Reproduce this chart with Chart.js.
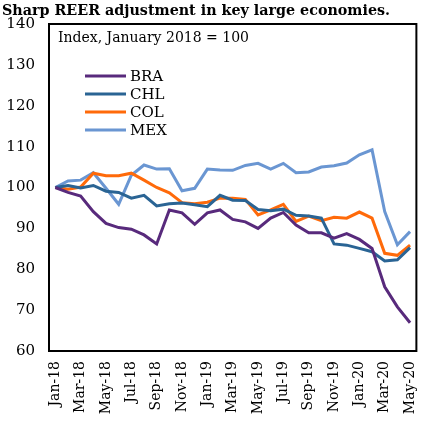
<!DOCTYPE html>
<html>
<head>
<script src="https://cdn.jsdelivr.net/npm/chart.js"></script>
<title>REER</title>
<style>
  body { margin: 0; background: #fff; }
  #wrap { width: 437px; height: 421px; }
</style>
</head>
<body>
<div id="wrap"><canvas id="myChart"></canvas></div>
<script>
const months = ['Jan-18','Feb-18','Mar-18','Apr-18','May-18','Jun-18','Jul-18','Aug-18','Sep-18','Oct-18','Nov-18','Dec-18',
  'Jan-19','Feb-19','Mar-19','Apr-19','May-19','Jun-19','Jul-19','Aug-19','Sep-19','Oct-19','Nov-19','Dec-19',
  'Jan-20','Feb-20','Mar-20','Apr-20','May-20'];

const bra = [100, 98.8, 97.9, 94.1, 91.2, 90.2, 89.8, 88.4, 86.2, 94.5, 93.8, 91.0, 93.8, 94.5, 92.2,
  91.6, 90.0, 92.5, 93.9, 90.8, 88.9, 88.9, 87.6, 88.7, 87.3, 85.1, 75.7, 70.8, 66.9];
const chl = [100, 100.5, 99.9, 100.5, 99.1, 98.8, 97.4, 98.1, 95.5, 96.0, 96.2, 95.8, 95.3, 98.1, 96.9,
  96.8, 94.6, 94.3, 94.7, 93.2, 93.0, 92.5, 86.2, 85.9, 85.1, 84.3, 82.0, 82.3, 85.3];
const col = [100, 99.6, 100.1, 103.5, 102.9, 102.9, 103.5, 101.8, 100.0, 98.7, 96.3, 96.0, 96.4, 97.4, 97.4,
  97.1, 93.3, 94.5, 95.9, 91.7, 93.0, 91.9, 92.7, 92.5, 94.0, 92.5, 83.9, 83.4, 85.9];
const mex = [100, 101.6, 101.8, 103.6, 99.8, 95.9, 103.0, 105.5, 104.5, 104.6, 99.2, 99.8, 104.5, 104.3, 104.2,
  105.4, 105.9, 104.5, 105.9, 103.6, 103.8, 105.0, 105.3, 106.0, 108.0, 109.2, 94.1, 86.0, 89.2];

const yTicks = [60, 70, 80, 90, 100, 110, 120, 130, 140];

const serif = "'DejaVu Serif', 'Liberation Serif', serif";

// titles, inner note, legend and box drawn on top of the chart
const decor = {
  id: 'decor',
  afterDraw(chart) {
    const c = chart.ctx;
    const a = chart.chartArea;
    c.save();
    c.strokeStyle = '#000';
    c.lineWidth = 2;
    c.strokeRect(a.left, a.top, a.right - a.left, a.bottom - a.top);

    c.fillStyle = '#000';
    c.textBaseline = 'middle';
    c.font = 'bold 14.3px ' + serif;
    c.fillText('Sharp REER adjustment in key large economies.', 2, 11);

    c.font = '14px ' + serif;
    c.fillText('Index, January 2018 = 100', a.left + 9, 38);

    chart.data.datasets.forEach((ds, i) => {
      const y = 76 + i * 18;
      c.strokeStyle = ds.borderColor;
      c.lineWidth = 3;
      c.beginPath();
      c.moveTo(85, y);
      c.lineTo(126, y);
      c.stroke();
      c.fillStyle = '#000';
      c.font = '15px ' + serif;
      c.fillText(ds.label, 130, y + 1);
    });
    c.restore();
  }
};

const ctx = document.getElementById('myChart');
new Chart(ctx, {
  type: 'line',
  data: {
    labels: months,
    datasets: [
      { label: 'BRA', data: bra, borderColor: '#582a7c' },
      { label: 'CHL', data: chl, borderColor: '#2a6494' },
      { label: 'COL', data: col, borderColor: '#ff6a0a' },
      { label: 'MEX', data: mex, borderColor: '#6a96d2' }
    ]
  },
  options: {
    responsive: true,
    maintainAspectRatio: false,
    animation: false,
    layout: { padding: { top: 24, right: 9, left: 4, bottom: 0 } },
    elements: {
      point: { radius: 0 },
      line: { borderWidth: 3, tension: 0 }
    },
    plugins: {
      legend: { display: false },
      tooltip: { enabled: false }
    },
    scales: {
      x: {
        offset: true,
        grid: { display: false, drawTicks: false },
        border: { display: false },
        afterFit: s => { s.height = 70; },
        ticks: {
          autoSkip: false,
          minRotation: 90,
          maxRotation: 90,
          padding: 10,
          color: '#000',
          font: { family: serif, size: 14 },
          callback: function (v, i) { return i % 2 === 0 ? this.getLabelForValue(v) : ''; }
        }
      },
      y: {
        min: 60,
        max: 140,
        grid: { display: false, drawTicks: false },
        border: { display: false },
        afterFit: s => { s.width = 45; },
        afterBuildTicks: s => { s.ticks = yTicks.map(v => ({ value: v })); },
        ticks: {
          padding: 14,
          color: '#000',
          font: { family: serif, size: 15 }
        }
      }
    }
  },
  plugins: [decor]
});
</script>
</body>
</html>
